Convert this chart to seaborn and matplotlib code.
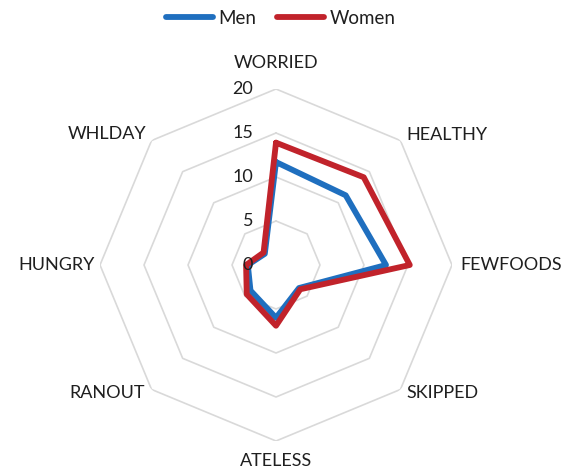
import numpy as np
import pandas as pd
import matplotlib
matplotlib.use("Agg")
import matplotlib.pyplot as plt
import seaborn as sns

# Food-insecurity items, clockwise from the top
categories = ["WORRIED", "HEALTHY", "FEWFOODS", "SKIPPED",
              "ATELESS", "RANOUT", "HUNGRY", "WHLDAY"]
men = [11.7, 11.2, 12.5, 3.7, 6.0, 4.1, 3.2, 1.8]
women = [13.9, 14.1, 15.2, 3.9, 6.9, 4.7, 3.4, 2.0]
ring_ticks = [0, 5, 10, 15, 20]

sns.set_style("white")
plt.rcParams["font.family"] = ["Lato", "DejaVu Sans"]

n = len(categories)
angles = np.linspace(0, 2 * np.pi, n, endpoint=False)
closed = np.append(angles, 2 * np.pi)

rows = []
for name, vals in (("Men", men), ("Women", women)):
    for a, v in zip(closed, vals + vals[:1]):
        rows.append({"theta": a, "value": v, "sex": name})
df = pd.DataFrame(rows)

fig = plt.figure(figsize=(5.67, 4.72), dpi=100)
ax = fig.add_axes([100 / 567, 31 / 472, 352 / 567, 352 / 472], projection="polar")
ax.set_theta_zero_location("N")
ax.set_theta_direction(-1)
ax.set_ylim(0, 20)
ax.grid(False)
ax.spines["polar"].set_visible(False)
ax.set_xticks([])
ax.set_yticks([])

# Octagonal rings only (no spokes)
grid_col = "#d9d9d9"
for r in ring_ticks[1:]:
    ax.plot(closed, [r] * len(closed), color=grid_col, lw=1.2, zorder=1)

palette = {"Men": "#1f6fbf", "Women": "#c1232b"}
sns.lineplot(data=df, x="theta", y="value", hue="sex", sort=False,
             estimator=None, palette=palette, lw=4.2, ax=ax, legend=False,
             zorder=3)
ax.set_xlabel("")
ax.set_ylabel("")
ax.set_ylim(0, 20)

txt_col = "#1f1f1f"
fs = 13
# Radial scale labels along the top spoke
for r in ring_ticks:
    ax.annotate(str(r), xy=(0, r), xytext=(-23, 0), textcoords="offset pixels",
                ha="right", va="center", fontsize=fs, color=txt_col, zorder=4)

# Category labels just outside the outer ring
placement = [
    ((0, 18), "center", "bottom"),
    ((6, 6), "left", "center"),
    ((8, 0), "left", "center"),
    ((6, -4), "left", "center"),
    ((0, -12), "center", "top"),
    ((-7, -4), "right", "center"),
    ((-5, 0), "right", "center"),
    ((-5, 7), "right", "center"),
]
for a, lab, (off, ha, va) in zip(angles, categories, placement):
    ax.annotate(lab, xy=(a, 20), xytext=off, textcoords="offset pixels",
                ha=ha, va=va, fontsize=fs, color=txt_col,
                annotation_clip=False)

handles = [plt.Line2D([], [], color=palette[k], lw=4.2) for k in ("Men", "Women")]
fig.legend(handles, ["Men", "Women"], loc="center", bbox_to_anchor=(281 / 567, 1 - 18 / 472),
           ncol=2, frameon=False, fontsize=13.5, handlelength=2.5,
           handletextpad=0.3, columnspacing=1.1, labelcolor=txt_col)

fig.savefig("out.png", dpi=100, facecolor="white")
